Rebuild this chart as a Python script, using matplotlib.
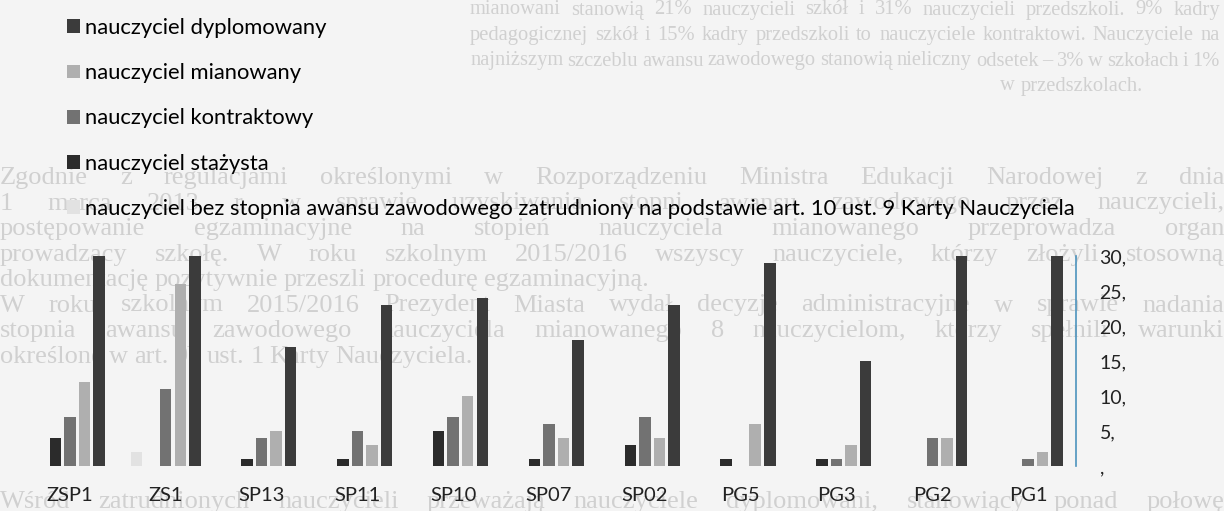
import numpy as np
import matplotlib.pyplot as plt

# Nauczyciele wg stopnia awansu zawodowego w szkołach
schools = ['ZSP1', 'ZS1', 'SP13', 'SP11', 'SP10', 'SP07', 'SP02', 'PG5', 'PG3', 'PG2', 'PG1']
bez_stopnia = [0, 2, 0, 0, 0, 0, 0, 0, 0, 0, 0]
stazysta = [4, 0, 1, 1, 5, 1, 3, 1, 1, 0, 0]
kontraktowy = [7, 11, 4, 5, 7, 6, 7, 0, 1, 4, 1]
mianowany = [12, 26, 5, 3, 10, 4, 4, 6, 3, 4, 2]
dyplomowany = [30, 30, 17, 23, 24, 18, 23, 29, 15, 30, 30]

y_ticks = [0, 5, 10, 15, 20, 25, 30]
y_labels = [',', '5,', '10,', '15,', '20,', '25,', '30,']

# tekst strony w tle (skan)
page_top = [
    'mianowani stanowią 21% nauczycieli szkół i 31% nauczycieli przedszkoli. 9% kadry',
    'pedagogicznej szkół i 15% kadry przedszkoli to nauczyciele kontraktowi. Nauczyciele na',
    'najniższym szczeblu awansu zawodowego stanowią nieliczny odsetek – 3% w szkołach i 1%',
]
page_mid = [
    'Zgodnie z regulacjami określonymi w Rozporządzeniu Ministra Edukacji Narodowej z dnia',
    '1 marca 2013 r. w sprawie uzyskiwania stopni awansu zawodowego przez nauczycieli,',
    'postępowanie egzaminacyjne na stopień nauczyciela mianowanego przeprowadza organ',
    'prowadzący szkołę. W roku szkolnym 2015/2016 wszyscy nauczyciele, którzy złożyli stosowną',
    'dokumentację pozytywnie przeszli procedurę egzaminacyjną.',
    'W roku szkolnym 2015/2016 Prezydent Miasta wydał decyzje administracyjne w sprawie nadania',
    'stopnia awansu zawodowego nauczyciela mianowanego 8 nauczycielom, którzy spełnili warunki',
    'określone w art. 9b ust. 1 Karty Nauczyciela.',
]
page_bottom = 'Wśród zatrudnionych nauczycieli przeważają nauczyciele dyplomowani, stanowiący ponad połowę'

W, H = 1224, 511
fig = plt.figure(figsize=(W / 100, H / 100), dpi=100, facecolor='#f4f4f4')
renderer = fig.canvas.get_renderer()
bg_style = dict(family='Liberation Serif', color='#d0d0d0', va='center', zorder=-1)


def page_line(text, y, x0, x1, size=19, justify=True):
    words = text.split()
    items = [fig.text(0, 0, w, fontsize=size, **bg_style) for w in words]
    widths = [t.get_window_extent(renderer).width for t in items]
    gap = 6
    if justify and len(words) > 1:
        gap = max((x1 - x0 - sum(widths)) / (len(words) - 1), 4)
    x = x0
    for t, wd in zip(items, widths):
        t.set_position((x / W, 1 - y / H))
        x += wd + gap


for i, line in enumerate(page_top):
    page_line(line, 10 + 25.5 * i, 470, 1220, size=14.8)
page_line('w przedszkolach.', 86, 1000, 1220, size=14.8, justify=False)
for i, line in enumerate(page_mid):
    last = line.endswith('egzaminacyjną.') or line.endswith('Nauczyciela.')
    page_line(line, 178 + 25.5 * i, 0, 1224, justify=not last)
page_line(page_bottom, 502, 0, 1224)

# wykres
ax = fig.add_axes([22 / W, 45 / H, 1054 / W, 210 / H])
ax.set_facecolor('none')

x = np.arange(len(schools))
width = 0.12
step = 0.152
series = [
    (bez_stopnia, '#e2e2e2', 'nauczyciel bez stopnia awansu zawodowego zatrudniony na podstawie art. 10 ust. 9 Karty Nauczyciela'),
    (stazysta, '#2b2b2b', 'nauczyciel stażysta'),
    (kontraktowy, '#727272', 'nauczyciel kontraktowy'),
    (mianowany, '#afafaf', 'nauczyciel mianowany'),
    (dyplomowany, '#3b3b3b', 'nauczyciel dyplomowany'),
]
bars = []
for k, (vals, col, lab) in enumerate(series):
    b = ax.bar(x + (k - 2) * step, vals, width, color=col, label=lab)
    bars.append(b)

ax.set_xlim(-0.5, 10.5)
ax.set_ylim(0, 30)
ax.set_xticks(x)
ax.set_xticklabels(schools, family='Lato', fontsize=14.5, color='#222222')
ax.tick_params(axis='x', length=0, pad=15)

ax.yaxis.tick_right()
ax.set_yticks(y_ticks)
ax.set_yticklabels(y_labels, family='Lato', fontsize=14, color='#222222')
ax.tick_params(axis='y', length=0, pad=17)

for side in ['top', 'left', 'bottom']:
    ax.spines[side].set_visible(False)
ax.spines['right'].set_color('#4d93bd')
ax.spines['right'].set_linewidth(1.2)

order = [4, 3, 2, 1, 0]
fig.legend([bars[i] for i in order], [series[i][2] for i in order],
           loc='upper left', bbox_to_anchor=(67 / W, 1 - 18 / H),
           frameon=False, borderpad=0, borderaxespad=0,
           handlelength=0.6, handleheight=0.6, handletextpad=0.22,
           labelspacing=1.15, prop={'family': 'Lato', 'size': 15.8})

fig.savefig('out.png', dpi=100, facecolor=fig.get_facecolor())
